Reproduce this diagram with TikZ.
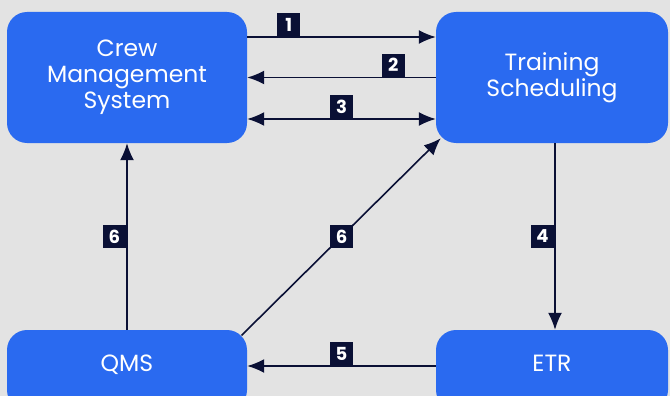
\documentclass[tikz,border=0pt]{standalone}
\usepackage{fontspec}
\setmainfont{Poppins}
\usepackage{tikz}
\usetikzlibrary{arrows.meta}

\definecolor{bgGray}{HTML}{E3E3E3}
\definecolor{boxBlue}{HTML}{2A6AF0}
\definecolor{navy}{HTML}{0A1035}

\begin{document}
\begin{tikzpicture}[x = 1pt, y = -1pt, >={Latex[length=17pt,width=14pt]},
  box/.style = {fill=boxBlue, rounded corners=20pt, text=white, align=center, inner sep=0pt,
    font=\fontsize{23.5}{26}\selectfont},
  num/.style = {fill=navy, text=white, inner sep=0pt, minimum width=23.5pt, minimum height=23pt,
    font=\fontsize{18}{18}\selectfont\bfseries},
  link/.style = {navy, line width=1.6pt}]

% background
\useasboundingbox (0,0) rectangle (670,396);
\fill[bgGray] (0,0) rectangle (670,396);
\clip (0,0) rectangle (670,396);

% boxes
\node(crew) at (127,77.5) [box, minimum width=240pt, minimum height=131pt] {Crew\\Management\\System};
\node(train) at (552,77.5) [box, minimum width=232pt, minimum height=131pt] {Training\\Scheduling};
\node(qms) at (127,370) [box, minimum width=240pt, minimum height=80pt, text depth=14pt] {QMS};
\node(etr) at (552,370) [box, minimum width=232pt, minimum height=80pt, text depth=14pt] {ETR};

% top arrows
\draw[link, ->] ([yshift=40.5pt]crew.east) -- ([yshift=40.5pt]train.west) node[num, pos=0.22, anchor=south] {1};
\draw[link, ->] (train.west) -- (crew.east) node[num, pos=0.225, anchor=south] {2};
\draw[link, <->] ([yshift=-41.5pt]crew.east) -- ([yshift=-41.5pt]train.west) node[num, midway, anchor=south] {3};

% vertical arrows
\draw[link, ->] ([xshift=3pt]train.south) -- ([xshift=3pt]etr.north) node[num, midway, anchor=east] {4};
\draw[link, ->] (qms.north) -- (crew.south) node[num, midway, anchor=east] {6};

% bottom and diagonal arrows
\draw[link, ->] ([yshift=4pt]etr.west) -- ([yshift=4pt]qms.east) node[num, midway, anchor=south] {5};
\draw[link, ->, shorten <=-8pt, shorten >=-7pt] (qms.north east) -- (train.south west) node[num, midway] {6};

\end{tikzpicture}
\end{document}
